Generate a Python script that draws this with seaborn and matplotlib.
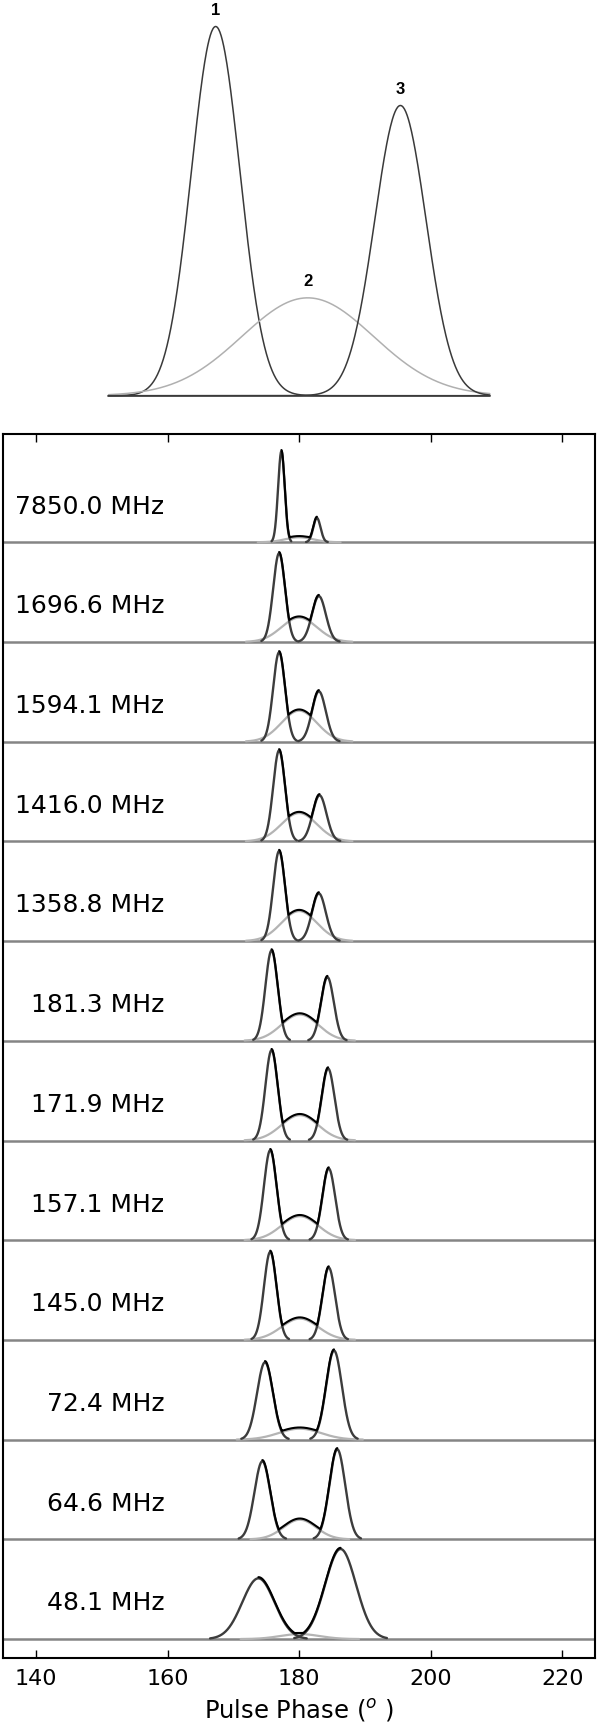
import numpy as np
import matplotlib
matplotlib.use("Agg")
import matplotlib.pyplot as plt
import seaborn as sns

# panel labels, top to bottom
freqs = ["7850.0", "1696.6", "1594.1", "1416.0", "1358.8", "181.3",
         "171.9", "157.1", "145.0", "72.4", "64.6", "48.1"]

# gaussian components: centre (deg), peak height, sigma (deg)
c1_pos = [177.3, 176.95, 176.95, 176.95, 176.95, 175.8, 175.8, 175.6, 175.6, 174.8, 174.4, 173.8]
c1_amp = [0.913, 0.89, 0.896, 0.913, 0.903, 0.906, 0.906, 0.903, 0.883, 0.776, 0.783, 0.609]
c1_wid = [0.5, 0.9, 0.9, 0.9, 0.9, 0.93, 0.93, 0.95, 0.95, 1.2, 1.2, 2.45]

c2_pos = [180.0, 180.0, 180.0, 180.0, 180.0, 180.1, 180.1, 180.1, 180.1, 180.1, 180.1, 180.1]
c2_amp = [0.05, 0.244, 0.311, 0.284, 0.301, 0.264, 0.254, 0.241, 0.214, 0.11, 0.197, 0.05]
c2_wid = [2.1, 2.7, 2.7, 2.7, 2.7, 2.8, 2.8, 2.8, 2.8, 3.2, 2.5, 3.0]

c3_pos = [182.7, 183.0, 183.0, 183.1, 183.0, 184.3, 184.4, 184.5, 184.5, 185.3, 185.8, 186.3]
c3_amp = [0.244, 0.46, 0.505, 0.462, 0.478, 0.639, 0.722, 0.719, 0.726, 0.893, 0.903, 0.903]
c3_wid = [0.55, 1.05, 1.05, 1.05, 1.05, 0.97, 0.97, 0.97, 0.97, 1.2, 1.2, 2.35]

# schematic on top
top_pos = [167.3, 181.3, 195.4]
top_amp = [1.0, 0.265, 0.786]
top_wid = [3.7, 10.0, 3.9]
top_range = [151.0, 209.0]

def gauss(x, pos, amp, wid):
    return amp * np.exp(-0.5 * ((x - pos) / wid) ** 2)

sns.set_style("white")
plt.rcParams['font.family'] = ['DejaVu Sans']
plt.rcParams['text.color'] = 'black'
plt.rcParams['axes.labelcolor'] = 'black'
plt.rcParams['xtick.color'] = 'black'

fig = plt.figure(figsize=(6, 17.24), dpi=100)
ax_top = fig.add_axes([0.0055, 0.7622, 0.9862, 0.2378])
ax = fig.add_axes([0.0055, 0.0377, 0.9862, 0.7100])

# ---- top schematic
xt = np.linspace(top_range[0], top_range[1], 600)
ax_top.plot(top_range, [0, 0], color='#555555', lw=1.3)
top_cols = ['#3a3a3a', '#b0b0b0', '#3a3a3a']
for k in range(3):
    sns.lineplot(x=xt, y=gauss(xt, top_pos[k], top_amp[k], top_wid[k]), ax=ax_top,
                 color=top_cols[k], lw=1.1, estimator=None, sort=False)
    ax_top.text(top_pos[k], top_amp[k] + 0.047, str(k + 1), ha='center', va='center',
                fontsize=12, fontweight='bold', family=['Liberation Sans', 'DejaVu Sans'])
ax_top.set_xlim(135, 225)
ax_top.set_ylim(-0.036, 1.0745)
ax_top.axis('off')

# ---- stacked profiles
n = len(freqs)
for i, f in enumerate(freqs):
    off = n - 1 - i
    ax.axhline(off, color='#858585', lw=1.8, zorder=1)
    x2 = np.linspace(c2_pos[i] - 3 * c2_wid[i], c2_pos[i] + 3 * c2_wid[i], 300)
    sns.lineplot(x=x2, y=gauss(x2, c2_pos[i], c2_amp[i], c2_wid[i]) + off, ax=ax,
                 color='#b4b4b4', lw=1.6, estimator=None, sort=False, zorder=2)
    x1 = np.linspace(c1_pos[i] - 3 * c1_wid[i], c1_pos[i] + 3 * c1_wid[i], 300)
    sns.lineplot(x=x1, y=gauss(x1, c1_pos[i], c1_amp[i], c1_wid[i]) + off, ax=ax,
                 color='#3c3c3c', lw=1.7, estimator=None, sort=False, zorder=3)
    x3 = np.linspace(c3_pos[i] - 3 * c3_wid[i], c3_pos[i] + 3 * c3_wid[i], 300)
    sns.lineplot(x=x3, y=gauss(x3, c3_pos[i], c3_amp[i], c3_wid[i]) + off, ax=ax,
                 color='#3c3c3c', lw=1.7, estimator=None, sort=False, zorder=3)
    # overall profile between the two outer peaks (upper envelope of the components)
    xs = np.linspace(c1_pos[i], c3_pos[i], 400)
    env = np.maximum.reduce([gauss(xs, c1_pos[i], c1_amp[i], c1_wid[i]),
                             gauss(xs, c2_pos[i], c2_amp[i], c2_wid[i]),
                             gauss(xs, c3_pos[i], c3_amp[i], c3_wid[i])])
    sns.lineplot(x=xs, y=env + off + 0.012, ax=ax, color='black', lw=1.5,
                 estimator=None, sort=False, zorder=4)
    ax.text(159.5, off + 0.367, f"{f} MHz", ha='right', va='center', fontsize=18)

ax.set_xlim(135, 225)
ax.set_ylim(-0.19, 12.086)
ax.set_xticks([140, 160, 180, 200, 220])
ax.set_yticks([])
ax.tick_params(axis='x', direction='in', length=6, width=1, top=True, bottom=True,
               labelsize=16, pad=7, color='black')
for s in ax.spines.values():
    s.set_visible(True)
    s.set_color('black')
    s.set_linewidth(1.5)
ax.set_xlabel(r'Pulse Phase ($^o$ )', fontsize=17.5, labelpad=6)
ax.set_ylabel('')

fig.savefig('out.png', dpi=100)
